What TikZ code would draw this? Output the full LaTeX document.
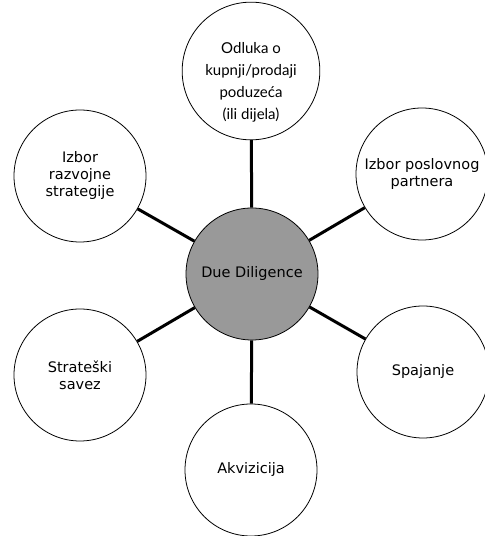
\documentclass[tikz,border=0pt]{standalone}
\usepackage{fontspec}
\setmainfont{DejaVu Sans}
\newfontfamily\topfont{Lato}
\begin{document}
\begin{tikzpicture}[x=1pt,y=1pt,
  bubble/.style={circle, draw, line width=0.8pt, fill=white, minimum size=132pt, inner sep=0pt, align=center, font=\fontsize{14.5}{17}\selectfont},
  spoke/.style={line width=3pt}]
  \useasboundingbox (0,0) rectangle (485,536);
  \node[bubble, fill=black!40] (dd) at (252,262) {Due Diligence};
  \node[bubble, font=\topfont\fontsize{15}{22}\selectfont] (odluka) at (251,465) {\mbox{}\\[12pt]Odluka o\\kupnji/prodaji\\poduzeća\\(ili dijela)};
  \node[bubble] (razvoj) at (80,360) {Izbor\\razvojne\\strategije};
  \node[bubble] (partner) at (422,362) {Izbor poslovnog\\partnera};
  \node[bubble] (savez) at (80,161) {Strateški\\savez};
  \node[bubble] (spajanje) at (423,164) {Spajanje};
  \node[bubble] (akviz) at (251,66) {Akvizicija};
  \draw[spoke] (dd) -- (odluka);
  \draw[spoke] (dd) -- (razvoj);
  \draw[spoke] (dd) -- (partner);
  \draw[spoke] (dd) -- (savez);
  \draw[spoke] (dd) -- (spajanje);
  \draw[spoke] (dd) -- (akviz);
\end{tikzpicture}
\end{document}
